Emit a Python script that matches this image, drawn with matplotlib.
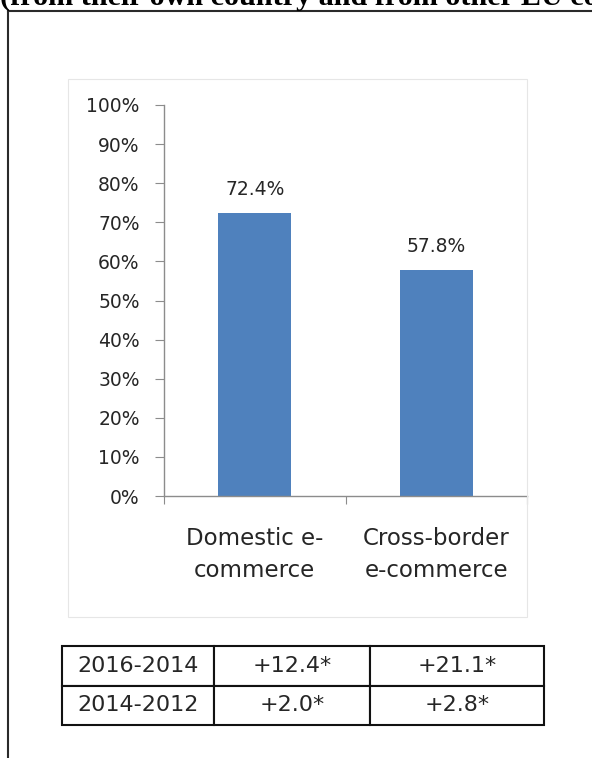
import matplotlib
matplotlib.use("Agg")
import matplotlib.pyplot as plt
from matplotlib.patches import Rectangle
from matplotlib.lines import Line2D

# ---- data ----
categories = ["Domestic e-\ncommerce", "Cross-border\ne-commerce"]
values = [72.4, 57.8]
value_labels = ["72.4%", "57.8%"]
yticks = [0, 10, 20, 30, 40, 50, 60, 70, 80, 90, 100]
ytick_labels = [f"{t}%" for t in yticks]
table_rows = ["2016-2014", "2014-2012"]
table_domestic = ["+12.4*", "+2.0*"]
table_cross = ["+21.1*", "+2.8*"]
title_text = "(from their own country and from other EU countries)"

W, H = 592, 758
DPI = 100
fig = plt.figure(figsize=(W / DPI, H / DPI), dpi=DPI)
fig.patch.set_facecolor("white")

def fx(px):
    return px / W

def fy(py):
    return 1 - py / H

FONT = "DejaVu Sans"
TXT = "#262626"

# cut-off title at top
fig.text(fx(0), fy(5), title_text, family="Liberation Serif", weight="bold",
         fontsize=21.7, color="black", ha="left", va="baseline")

# outer box (top and left lines)
fig.add_artist(Line2D([fx(7.5), fx(W + 5)], [fy(10.5), fy(10.5)], color="#2a2a2a", lw=1.5,
                      transform=fig.transFigure))
fig.add_artist(Line2D([fx(7.5), fx(7.5)], [fy(10.5), fy(H + 5)], color="#2a2a2a", lw=1.5,
                      transform=fig.transFigure))

# chart area frame
fig.add_artist(Rectangle((fx(68), fy(617)), fx(527) - fx(68), fy(79) - fy(617),
                         transform=fig.transFigure, fill=False, edgecolor="#E6E6E6", lw=0.8))

# bar axes
ax = fig.add_axes([fx(164), fy(496), fx(527) - fx(164), fy(105) - fy(496)])
x = list(range(len(categories)))
bars = ax.bar(x, values, width=0.40, color="#4F81BD")
ax.set_xlim(-0.5, 1.5)
ax.set_ylim(0, 100)
ax.set_yticks(yticks)
ax.set_yticklabels(ytick_labels, family=FONT, fontsize=13.5, color=TXT)
ax.set_xticks([-0.5, 0.5, 1.5])
ax.set_xticklabels([])
ax.set_xticks(x, minor=True)
ax.set_xticklabels(categories, minor=True, family=FONT, fontsize=16.5, color=TXT,
                   linespacing=1.5)
ax.tick_params(axis="x", which="minor", length=0, pad=22)
ax.tick_params(axis="x", which="major", length=6, color="#8C8C8C", direction="out")
ax.tick_params(axis="y", length=6.5, color="#8C8C8C", direction="out", pad=11)
for s in ["top", "right"]:
    ax.spines[s].set_visible(False)
for s in ["left", "bottom"]:
    ax.spines[s].set_color("#8C8C8C")
    ax.spines[s].set_linewidth(1.0)
ax.bar_label(bars, labels=value_labels, padding=10, family=FONT, fontsize=13.5, color=TXT)

# table
tax = fig.add_axes([fx(62), fy(725), fx(544) - fx(62), fy(646) - fy(725)])
tax.axis("off")
cell_text = [[table_rows[i], table_domestic[i], table_cross[i]] for i in range(len(table_rows))]
colw = [152, 156, 174]
tot = sum(colw)
tbl = tax.table(cellText=cell_text, colWidths=[c / tot for c in colw],
                cellLoc="center", bbox=[0, 0, 1, 1])
tbl.auto_set_font_size(False)
for (r, c), cell in tbl.get_celld().items():
    cell.set_edgecolor("#111111")
    cell.set_linewidth(1.5)
    cell.get_text().set_fontsize(16)
    cell.get_text().set_family(FONT)
    cell.get_text().set_color(TXT)
    if c == 0:
        cell._loc = "left"
        cell.PAD = 0.04

fig.savefig("out.png", dpi=DPI, facecolor="white")
